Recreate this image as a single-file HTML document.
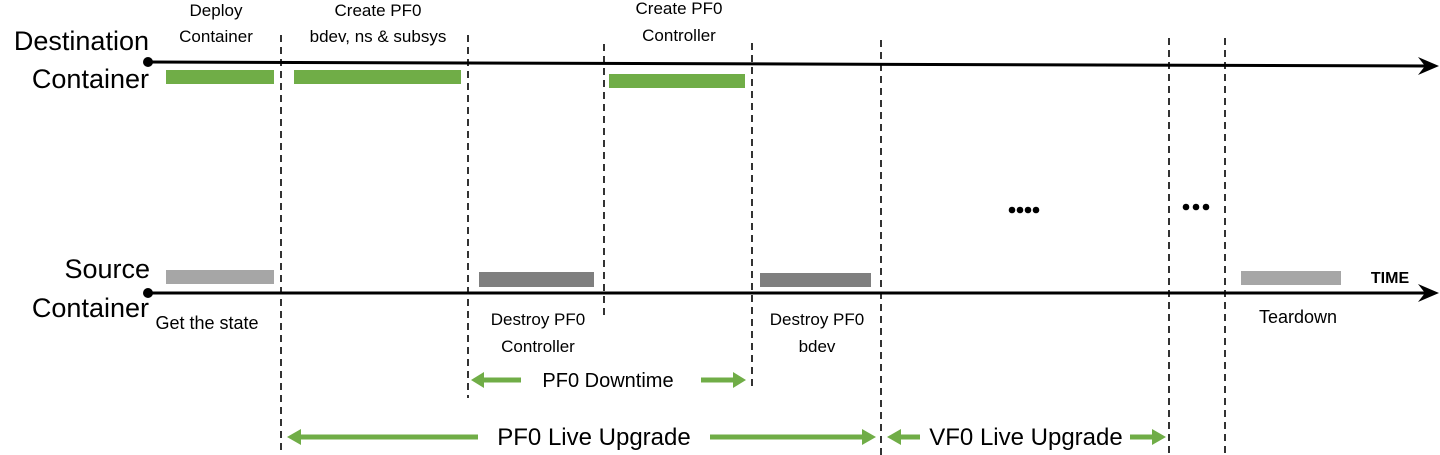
<!DOCTYPE html>
<html><head><style>
html,body{margin:0;padding:0;background:#fff;}
svg{display:block;font-family:"Liberation Sans",sans-serif;}
</style></head><body>
<svg width="1440" height="455" viewBox="0 0 1440 455" xmlns="http://www.w3.org/2000/svg">
<g stroke="#000" stroke-width="1.6" stroke-dasharray="7,5">
<line x1="281" y1="35" x2="281" y2="455"/>
<line x1="468" y1="35" x2="468" y2="398"/>
<line x1="604" y1="44" x2="604" y2="315"/>
<line x1="752" y1="43" x2="752" y2="390"/>
<line x1="881" y1="40" x2="881" y2="455"/>
<line x1="1169" y1="38" x2="1169" y2="455"/>
<line x1="1225" y1="38" x2="1225" y2="455"/>
</g>
<line x1="148" y1="62" x2="1428" y2="66" stroke="#000" stroke-width="3"/>
<polygon points="1439,66 1418,57 1425,66 1418,75" fill="#000"/>
<circle cx="148" cy="62" r="5" fill="#000"/>
<line x1="148" y1="293" x2="1428" y2="293" stroke="#000" stroke-width="3"/>
<polygon points="1439,293 1418,284 1425,293 1418,302" fill="#000"/>
<circle cx="148" cy="293" r="5" fill="#000"/>
<g fill="#70ad47">
<rect x="166" y="70" width="108" height="14"/>
<rect x="294" y="70" width="167" height="14"/>
<rect x="609" y="74" width="136" height="14"/>
</g>
<rect x="166" y="270" width="108" height="14" fill="#a6a6a6"/>
<rect x="479" y="272" width="115" height="15" fill="#7f7f7f"/>
<rect x="760" y="273" width="111" height="14" fill="#7f7f7f"/>
<rect x="1241" y="271" width="100" height="14" fill="#a6a6a6"/>
<g fill="#000">
<circle cx="1012" cy="210" r="3.3"/><circle cx="1020" cy="210" r="3.3"/><circle cx="1028" cy="210" r="3.3"/><circle cx="1036" cy="210" r="3.3"/>
<circle cx="1186" cy="207" r="3.3"/><circle cx="1196" cy="207" r="3.3"/><circle cx="1206" cy="207" r="3.3"/>
</g>
<g stroke="#70ad47" stroke-width="5" fill="#70ad47">
<line x1="481" y1="380" x2="521" y2="380"/><polygon stroke="none" points="471,380 484,372 484,388"/>
<line x1="701" y1="380" x2="735" y2="380"/><polygon stroke="none" points="746,380 733,372 733,388"/>
<line x1="298" y1="437" x2="478" y2="437"/><polygon stroke="none" points="287,437 301,429 301,445"/>
<line x1="710" y1="437" x2="864" y2="437"/><polygon stroke="none" points="876,437 862,429 862,445"/>
<line x1="898" y1="437" x2="920" y2="437"/><polygon stroke="none" points="887,437 901,429 901,445"/>
<line x1="1130" y1="437" x2="1154" y2="437"/><polygon stroke="none" points="1166,437 1152,429 1152,445"/>
</g>
<g fill="#000" text-anchor="middle" font-size="17">
<text x="216" y="16">Deploy</text>
<text x="216" y="42">Container</text>
<text x="378" y="16">Create PF0</text>
<text x="378" y="42">bdev, ns &amp; subsys</text>
<text x="679" y="14">Create PF0</text>
<text x="679" y="41">Controller</text>
<text x="538" y="325">Destroy PF0</text>
<text x="538" y="352">Controller</text>
<text x="817" y="325">Destroy PF0</text>
<text x="817" y="352">bdev</text>
<text x="207" y="329" font-size="18">Get the state</text>
<text x="1298" y="323" font-size="18">Teardown</text>
</g>
<g fill="#000" text-anchor="middle" font-size="20">
<text x="608" y="387">PF0 Downtime</text>
</g>
<g fill="#000" text-anchor="middle" font-size="24">
<text x="594" y="445">PF0 Live Upgrade</text>
<text x="1026" y="445">VF0 Live Upgrade</text>
</g>
<g fill="#000" text-anchor="end" font-size="27">
<text x="149" y="50">Destination</text>
<text x="149" y="88">Container</text>
<text x="150" y="278">Source</text>
<text x="149" y="317">Container</text>
</g>
<text x="1390" y="283" font-size="16" font-weight="bold" text-anchor="middle">TIME</text>
</svg>
</body></html>
